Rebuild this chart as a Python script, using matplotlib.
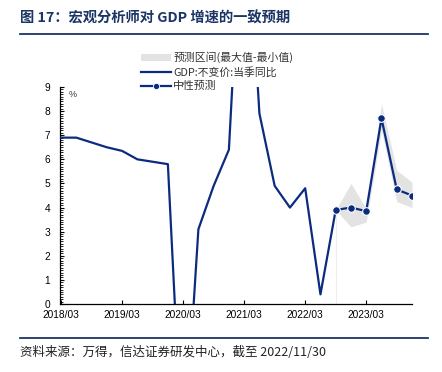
import numpy as np
import matplotlib
matplotlib.use("Agg")
import matplotlib.pyplot as plt
from matplotlib.lines import Line2D
from matplotlib.patches import Patch
from matplotlib.ticker import MultipleLocator

plt.rcParams['font.family'] = ['Noto Sans CJK SC', 'DejaVu Sans']

quarters = ['2018/03', '2018/06', '2018/09', '2018/12',
            '2019/03', '2019/06', '2019/09', '2019/12',
            '2020/03', '2020/06', '2020/09', '2020/12',
            '2021/03', '2021/06', '2021/09', '2021/12',
            '2022/03', '2022/06', '2022/09', '2022/12',
            '2023/03', '2023/06', '2023/09', '2023/12']
nan = np.nan
gdp = [6.9, 6.9, 6.7, 6.5,
       6.35, 6.0, 5.9, 5.8,
       -6.9, 3.1, 4.9, 6.4,
       18.3, 7.9, 4.9, 4.0,
       4.8, 0.4, 3.9, nan,
       nan, nan, nan, nan]
forecast = [nan] * 18 + [3.9, 4.0, 3.85, 7.7, 4.75, 4.5]
band_max = [nan] * 18 + [3.9, 5.0, 3.95, 8.3, 5.55, 5.05]
band_min = [nan] * 18 + [3.9, 3.2, 3.4, 7.2, 4.25, 4.0]
year_labels = ['2018/03', '2019/03', '2020/03', '2021/03', '2022/03', '2023/03']

navy = '#0b2c7e'
W, H = 442, 372
fig = plt.figure(figsize=(W / 100, H / 100), dpi=100)
ax = fig.add_axes([60 / W, (H - 304) / H, (412 - 60) / W, (304 - 87) / H])

x = np.arange(len(quarters))
bmax = np.array(band_max, dtype=float)
bmin = np.array(band_min, dtype=float)
ok = ~np.isnan(bmax)
ax.fill_between(x[ok], bmin[ok], bmax[ok], color='#e3e3e3', lw=0, zorder=1)
# faint edges of the stacked band area
xe = x[ok][[0, -1]]
ax.vlines(xe, 0, bmin[ok][[0, -1]], color='#eeeeee', lw=0.8, zorder=0.5)

ax.plot(x, gdp, color=navy, lw=1.6, zorder=3)
ax.plot(x, forecast, color=navy, lw=1.6, marker='o', ms=5.5,
        markerfacecolor=navy, markeredgecolor='white', markeredgewidth=0.8, zorder=4)

ax.set_xlim(-0.07, 23.0)
ax.set_ylim(0, 9)
ax.yaxis.set_major_locator(MultipleLocator(1))
ax.yaxis.set_minor_locator(MultipleLocator(0.1))
xt = [quarters.index(q) for q in year_labels]
ax.set_xticks(xt)
ax.set_xticklabels(year_labels, fontfamily=['Liberation Sans', 'DejaVu Sans'], fontsize=7.3)
for lab in ax.get_yticklabels():
    lab.set_fontfamily(['Liberation Sans', 'DejaVu Sans'])
ax.tick_params(axis='y', which='major', direction='in', length=3, width=0.8, labelsize=7.3, pad=7, colors='black')
ax.tick_params(axis='y', which='minor', direction='in', length=2, width=0.6)
ax.tick_params(axis='x', which='major', direction='in', length=3, width=0.8, labelsize=7.3, pad=4)
for s in ['top', 'right']:
    ax.spines[s].set_visible(False)
ax.spines['left'].set_linewidth(0.9)
ax.spines['bottom'].set_linewidth(0.9)
ax.text(0.025, 0.985, '%', transform=ax.transAxes, fontsize=6.5, va='top', ha='left',
        color='#333333', fontfamily=['Liberation Sans', 'DejaVu Sans'])

handles = [Patch(facecolor='#e3e3e3', edgecolor='none'),
           Line2D([], [], color=navy, lw=1.6),
           Line2D([], [], color=navy, lw=1.6, marker='o', ms=4.5, markeredgecolor='white', markeredgewidth=0.6)]
labels = ['预测区间(最大值-最小值)', 'GDP:不变价:当季同比', '中性预测']
leg = fig.legend(handles, labels, loc='upper left', bbox_to_anchor=(136 / W, (H - 46) / H),
                 frameon=False, fontsize=7.8, handlelength=2.7, handleheight=0.6,
                 labelspacing=0.35, handletextpad=0.25, borderpad=0)
for t in leg.get_texts():
    t.set_color('#333333')

fig.text(20 / W, (H - 18) / H, '图 17：宏观分析师对 GDP 增速的一致预期', fontsize=10.3,
         fontweight='bold', color='#1b3566', va='center', ha='left')
fig.add_artist(Line2D([20 / W, 428 / W], [(H - 34) / H] * 2, color='#1b3566', lw=1.3))
fig.add_artist(Line2D([20 / W, 428 / W], [(H - 338) / H] * 2, color='#1b3566', lw=1.3))
fig.text(20 / W, (H - 352) / H, '资料来源：万得，信达证券研发中心，截至 2022/11/30', fontsize=9.0,
         style='italic', color='#222222', va='center', ha='left')

fig.savefig('out.png', dpi=100)
